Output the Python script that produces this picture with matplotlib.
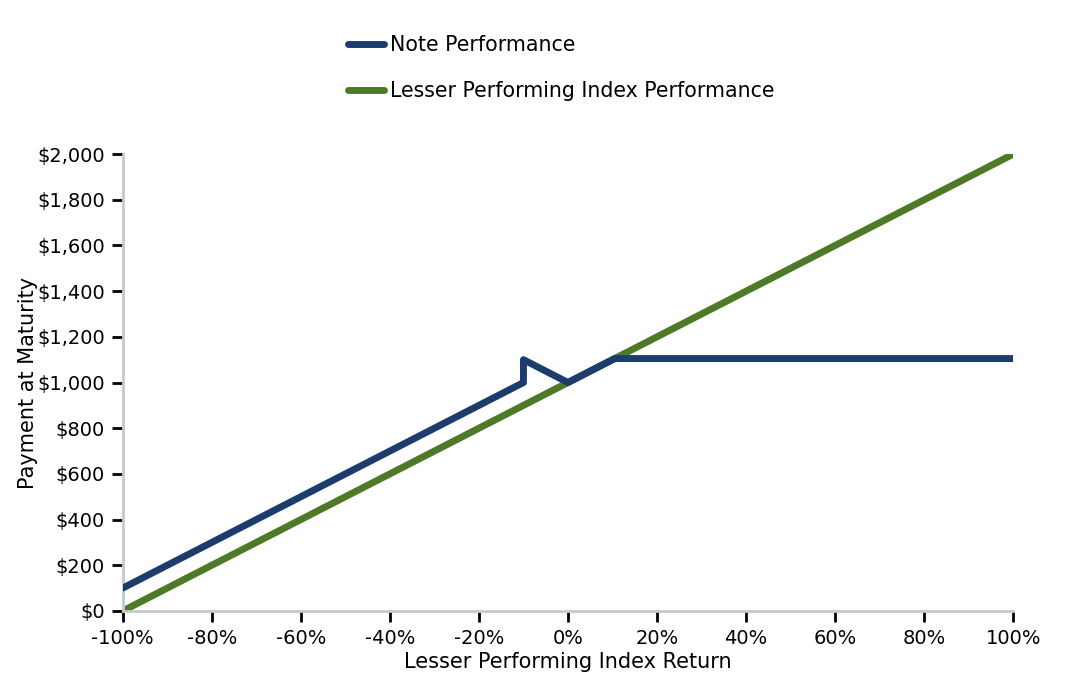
import matplotlib
matplotlib.use("Agg")
import matplotlib.pyplot as plt
from matplotlib.ticker import FuncFormatter

# ------------------------------------------------------------------
# Data
# ------------------------------------------------------------------
note_return = [-100, -10, -10, 0, 10.5, 100]
note_payment = [100, 1000, 1100, 1000, 1105, 1105]

index_return = [-100, 100]
index_payment = [0, 2000]

x_ticks = [-100, -80, -60, -40, -20, 0, 20, 40, 60, 80, 100]
y_ticks = [0, 200, 400, 600, 800, 1000, 1200, 1400, 1600, 1800, 2000]

navy = "#1d3c6e"
green = "#4e7a27"

# ------------------------------------------------------------------
# Plot
# ------------------------------------------------------------------
fig = plt.figure(figsize=(10.86, 6.88), dpi=100)
ax = fig.add_axes([0.113, 0.112, 0.82, 0.664])

ax.plot(index_return, index_payment, color=green, linewidth=5,
        solid_capstyle="round", solid_joinstyle="round",
        label="Lesser Performing Index Performance", zorder=2)
ax.plot(note_return, note_payment, color=navy, linewidth=5,
        solid_capstyle="round", solid_joinstyle="round",
        label="Note Performance", zorder=3)

ax.set_xlim(-100, 100)
ax.set_ylim(0, 2000)
ax.set_xticks(x_ticks)
ax.set_yticks(y_ticks)
ax.xaxis.set_major_formatter(FuncFormatter(lambda v, p: f"{v:.0f}%"))
ax.yaxis.set_major_formatter(FuncFormatter(lambda v, p: f"${v:,.0f}"))

for side in ["top", "right"]:
    ax.spines[side].set_visible(False)
for side in ["left", "bottom"]:
    ax.spines[side].set_color("#c4cacc")
    ax.spines[side].set_linewidth(2)

ax.tick_params(axis="both", direction="out", length=8, width=2,
               color="black", labelsize=14, pad=5)

ax.set_xlabel("Lesser Performing Index Return", fontsize=15, labelpad=3)
ax.set_ylabel("Payment at Maturity", fontsize=15, labelpad=-1)

handles, labels = ax.get_legend_handles_labels()
fig.legend(handles[::-1], labels[::-1],
           loc="upper left", bbox_to_anchor=(0.303, 0.976),
           frameon=False, fontsize=14.8, handlelength=1.75,
           labelspacing=1.28, handletextpad=0.3)

plt.savefig("out.png", dpi=100)
plt.close()
